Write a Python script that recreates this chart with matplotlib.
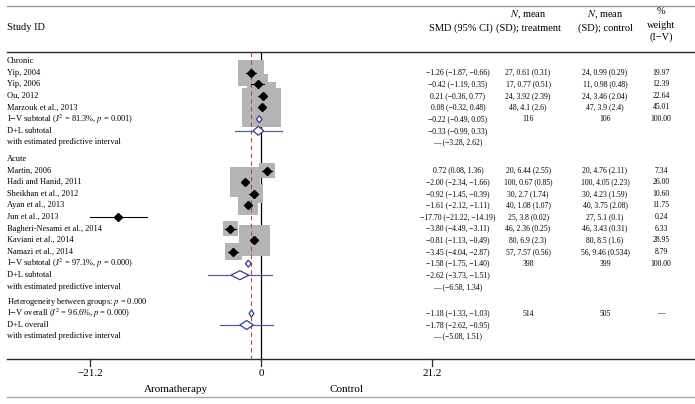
import matplotlib
matplotlib.use("Agg")
import matplotlib.pyplot as plt
from matplotlib.patches import Rectangle, Polygon

plt.rcParams['font.family'] = ['Liberation Serif', 'DejaVu Serif']
plt.rcParams['mathtext.fontset'] = 'stix'

# study level data
chronic_names = ['Yip, 2004', 'Yip, 2006', 'Ou, 2012', 'Marzouk et al., 2013']
chronic_smd = [-1.26, -0.42, 0.21, 0.08]
chronic_lo = [-1.87, -1.19, -0.36, -0.32]
chronic_hi = [-0.66, 0.35, 0.77, 0.48]
chronic_wt = [19.97, 12.39, 22.64, 45.01]
chronic_trt = ['27, 0.61 (0.31)', '17, 0.77 (0.51)', '24, 3.92 (2.39)', '48, 4.1 (2.6)']
chronic_ctl = ['24, 0.99 (0.29)', '11, 0.98 (0.48)', '24, 3.46 (2.04)', '47, 3.9 (2.4)']

acute_names = ['Martin, 2006', 'Hadi and Hanid, 2011', 'Sheikhan et al., 2012',
               'Ayan et al., 2013', 'Jun et al., 2013', 'Bagheri-Nesami et al., 2014',
               'Kaviani et al., 2014', 'Namazi et al., 2014']
acute_smd = [0.72, -2.00, -0.92, -1.61, -17.70, -3.80, -0.81, -3.45]
acute_lo = [0.08, -2.34, -1.45, -2.12, -21.22, -4.49, -1.13, -4.04]
acute_hi = [1.36, -1.66, -0.39, -1.11, -14.19, -3.11, -0.49, -2.87]
acute_wt = [7.34, 26.00, 10.60, 11.75, 0.24, 6.33, 28.95, 8.79]
acute_trt = ['20, 6.44 (2.55)', '100, 0.67 (0.85)', '30, 2.7 (1.74)', '40, 1.08 (1.07)',
             '25, 3.8 (0.02)', '46, 2.36 (0.25)', '80, 6.9 (2.3)', '57, 7.57 (0.56)']
acute_ctl = ['20, 4.76 (2.11)', '100, 4.05 (2.23)', '30, 4.23 (1.59)', '40, 3.75 (2.08)',
             '27, 5.1 (0.1)', '46, 3.43 (0.31)', '80, 8.5 (1.6)', '56, 9.46 (0.534)']

# pooled estimates: (estimate, low, high)
chronic_iv = (-0.22, -0.49, 0.05)
chronic_dl = (-0.33, -0.99, 0.33)
chronic_pi = (-3.28, 2.62)
chronic_n = (116, 106)
chronic_het = ('81.3', '0.001')

acute_iv = (-1.58, -1.75, -1.40)
acute_dl = (-2.62, -3.73, -1.51)
acute_pi = (-6.58, 1.34)
acute_n = (398, 399)
acute_het = ('97.1', '0.000')

overall_iv = (-1.18, -1.33, -1.03)
overall_dl = (-1.78, -2.62, -0.95)
overall_pi = (-5.08, 1.51)
overall_n = (514, 505)
overall_het = ('96.6', '0.000')
between_p = '0.000'

ticks = [-21.2, 0, 21.2]

# layout (pixels)
W, H = 695, 404
X0 = 261.0       # pixel of SMD = 0
SCALE = 8.066    # pixels per SMD unit


def px(x):
    return (x - X0) / SCALE


fig = plt.figure(figsize=(W / 100, H / 100), dpi=100)
ax = fig.add_axes([0, 0, 1, 1])
ax.set_xlim(px(0), px(W))
ax.set_ylim(H, 0)
ax.axis('off')

fs_head = 7.5
fs_lab = 6
fs = 5.5
dark = '#2b2b2b'
blue = '#3b3b8f'
sq_gray = '#b4b4b4'

col_lab = px(7)
col_smd = px(458)
col_trt = px(528)
col_ctl = px(605)
col_wt = px(661)

# rules
ax.plot([px(7), px(W)], [6, 6], color='#9a9a9a', lw=1.0)
ax.plot([px(7), px(W)], [52, 52], color=dark, lw=1.0)
ax.plot([px(7), px(W)], [359, 359], color=dark, lw=1.0)
ax.plot([px(7), px(W)], [397, 397], color='#a8a8a8', lw=1.0)

# header
ax.text(col_lab, 28, 'Study ID', fontsize=fs_head, va='center')
ax.text(px(461), 28, 'SMD (95% CI)', fontsize=fs_head, va='center', ha='center')
ax.text(col_trt, 15, '$N$, mean', fontsize=fs_head, va='center', ha='center')
ax.text(col_trt, 28, '(SD); treatment', fontsize=fs_head, va='center', ha='center')
ax.text(col_ctl, 15, '$N$, mean', fontsize=fs_head, va='center', ha='center')
ax.text(col_ctl, 28, '(SD); control', fontsize=fs_head, va='center', ha='center')
ax.text(col_wt, 12, '%', fontsize=fs_head, va='center', ha='center')
ax.text(col_wt, 25, 'weight', fontsize=fs_head, va='center', ha='center')
ax.text(col_wt, 37, '(I\u2212V)', fontsize=fs_head, va='center', ha='center')

# reference lines
ax.plot([0, 0], [52, 359], color='black', lw=0.9, zorder=1)
ax.plot([overall_iv[0]] * 2, [52, 359], color='#b84848', lw=0.8, ls=(0, (4, 3)), zorder=4)


def ci_text(est, lo, hi):
    return f'{est:.2f} ({lo:.2f}, {hi:.2f})'.replace('-', '\u2212')


def diamond(y, est, lo, hi, h):
    d = Polygon([(lo, y), (est, y - h / 2), (hi, y), (est, y + h / 2)], closed=True,
                facecolor='white', edgecolor=blue, lw=0.9, zorder=5)
    ax.add_patch(d)


def group(title, y0, names, smd, lo, hi, wt, trt, ctl, iv, dl, pi, n, het):
    ax.text(col_lab, y0, title, fontsize=fs_lab, va='center')
    ys = [y0 + 11.6 * (i + 1) for i in range(len(names))]
    for y, name, s, l, h, w, t, c in zip(ys, names, smd, lo, hi, wt, trt, ctl):
        side = 5.8 * w ** 0.5
        ax.add_patch(Rectangle((s - side / SCALE / 2, y - side / 2), side / SCALE, side,
                               facecolor=sq_gray, edgecolor='none', zorder=2))
        ax.text(col_lab, y, name, fontsize=fs_lab, va='center')
        ax.text(col_smd, y, ci_text(s, l, h), fontsize=fs, va='center', ha='center')
        ax.text(col_trt, y, t, fontsize=fs, va='center', ha='center')
        ax.text(col_ctl, y, c, fontsize=fs, va='center', ha='center')
        ax.text(col_wt, y, f'{w:.2f}', fontsize=fs, va='center', ha='center')
    for y, s, l, h in zip(ys, smd, lo, hi):
        ax.plot([l, h], [y, y], color='black', lw=0.8, zorder=6)
        ax.plot(s, y, marker='D', color='black', ms=3.8, zorder=7)
    y_iv = ys[-1] + 11.8
    y_dl = y_iv + 11.6
    y_pi = y_dl + 11.6
    ax.text(col_lab, y_iv, f'I$-$V subtotal ($I^2$ = {het[0]}%, $p$ = {het[1]})', fontsize=fs_lab, va='center')
    ax.text(col_lab, y_dl, 'D+L subtotal', fontsize=fs_lab, va='center')
    ax.text(col_lab, y_pi, 'with estimated predictive interval', fontsize=fs_lab, va='center')
    ax.text(col_smd, y_iv, ci_text(*iv), fontsize=fs, va='center', ha='center')
    ax.text(col_smd, y_dl, ci_text(*dl), fontsize=fs, va='center', ha='center')
    pi_txt = f'\u2014 ({pi[0]:.2f}, {pi[1]:.2f})'.replace('-', '\u2212')
    ax.text(col_smd, y_pi, pi_txt, fontsize=fs, va='center', ha='center')
    ax.text(col_trt, y_iv, str(n[0]), fontsize=fs, va='center', ha='center')
    ax.text(col_ctl, y_iv, str(n[1]), fontsize=fs, va='center', ha='center')
    ax.text(col_wt, y_iv, '100.00', fontsize=fs, va='center', ha='center')
    ax.plot([pi[0], pi[1]], [y_dl, y_dl], color='#5a5aa0', lw=0.9, zorder=4)
    diamond(y_iv, iv[0], min(iv[1], iv[0] - 0.35), max(iv[2], iv[0] + 0.35), 7)
    diamond(y_dl, *dl, 9)


group('Chronic', 61, chronic_names, chronic_smd, chronic_lo, chronic_hi, chronic_wt,
      chronic_trt, chronic_ctl, chronic_iv, chronic_dl, chronic_pi, chronic_n, chronic_het)
group('Acute', 159, acute_names, acute_smd, acute_lo, acute_hi, acute_wt,
      acute_trt, acute_ctl, acute_iv, acute_dl, acute_pi, acute_n, acute_het)

# overall
y_het, y_iv, y_dl, y_pi = 302, 313.5, 325, 336.5
ax.text(col_lab, y_het, f'Heterogeneity between groups: $p$ = {between_p}', fontsize=fs_lab, va='center')
ax.text(col_lab, y_iv, f'I$-$V overall ($I^2$ = {overall_het[0]}%, $p$ = {overall_het[1]})', fontsize=fs_lab, va='center')
ax.text(col_lab, y_dl, 'D+L overall', fontsize=fs_lab, va='center')
ax.text(col_lab, y_pi, 'with estimated predictive interval', fontsize=fs_lab, va='center')
ax.text(col_smd, y_iv, ci_text(*overall_iv), fontsize=fs, va='center', ha='center')
ax.text(col_smd, y_dl, ci_text(*overall_dl), fontsize=fs, va='center', ha='center')
ax.text(col_smd, y_pi, f'\u2014 ({overall_pi[0]:.2f}, {overall_pi[1]:.2f})'.replace('-', '\u2212'),
        fontsize=fs, va='center', ha='center')
ax.text(col_trt, y_iv, str(overall_n[0]), fontsize=fs, va='center', ha='center')
ax.text(col_ctl, y_iv, str(overall_n[1]), fontsize=fs, va='center', ha='center')
ax.text(col_wt, y_iv, '\u2014', fontsize=fs, va='center', ha='center')
ax.plot(list(overall_pi), [y_dl, y_dl], color='#5a5aa0', lw=0.9, zorder=4)
diamond(y_iv, overall_iv[0], overall_iv[1] - 0.15, overall_iv[2] + 0.15, 7)
diamond(y_dl, *overall_dl, 9)

# x axis ticks
for t in ticks:
    ax.plot([t, t], [359, 366], color=dark, lw=0.9)
    ax.text(t, 373, f'{t:g}'.replace('-', '\u2212'), fontsize=8, ha='center', va='center')
ax.text(px(176), 389, 'Aromatherapy', fontsize=8, ha='center', va='center')
ax.text(px(347), 389, 'Control', fontsize=8, ha='center', va='center')

fig.savefig('out.png', dpi=100)
